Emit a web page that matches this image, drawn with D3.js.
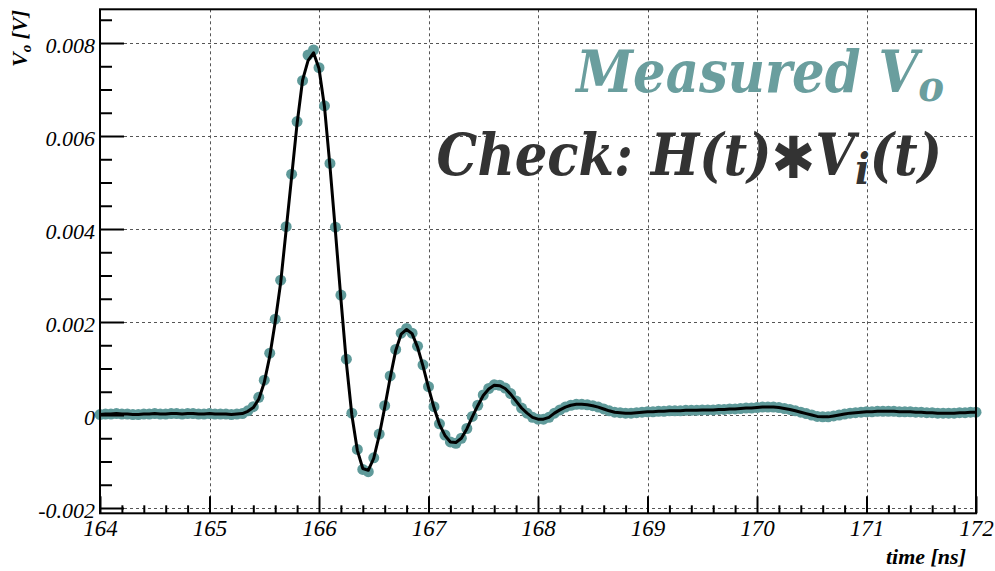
<!DOCTYPE html>
<html>
<head>
<meta charset="utf-8">
<script src="https://cdn.jsdelivr.net/npm/d3@7"></script>
<style>
  body { margin: 0; background: #fff; }
</style>
</head>
<body>
<svg id="chart"></svg>
<script>
// sample times [ns]
const times = [
  164.00, 164.05, 164.10, 164.15, 164.20, 164.25, 164.30, 164.35, 164.40, 164.45,
  164.50, 164.55, 164.60, 164.65, 164.70, 164.75, 164.80, 164.85, 164.90, 164.95,
  165.00, 165.05, 165.10, 165.15, 165.20, 165.25, 165.30, 165.35, 165.40, 165.45,
  165.50, 165.55, 165.60, 165.65, 165.70, 165.75, 165.80, 165.85, 165.90, 165.95,
  166.00, 166.05, 166.10, 166.15, 166.20, 166.25, 166.30, 166.35, 166.40, 166.45,
  166.50, 166.55, 166.60, 166.65, 166.70, 166.75, 166.80, 166.85, 166.90, 166.95,
  167.00, 167.05, 167.10, 167.15, 167.20, 167.25, 167.30, 167.35, 167.40, 167.45,
  167.50, 167.55, 167.60, 167.65, 167.70, 167.75, 167.80, 167.85, 167.90, 167.95,
  168.00, 168.05, 168.10, 168.15, 168.20, 168.25, 168.30, 168.35, 168.40, 168.45,
  168.50, 168.55, 168.60, 168.65, 168.70, 168.75, 168.80, 168.85, 168.90, 168.95,
  169.00, 169.05, 169.10, 169.15, 169.20, 169.25, 169.30, 169.35, 169.40, 169.45,
  169.50, 169.55, 169.60, 169.65, 169.70, 169.75, 169.80, 169.85, 169.90, 169.95,
  170.00, 170.05, 170.10, 170.15, 170.20, 170.25, 170.30, 170.35, 170.40, 170.45,
  170.50, 170.55, 170.60, 170.65, 170.70, 170.75, 170.80, 170.85, 170.90, 170.95,
  171.00, 171.05, 171.10, 171.15, 171.20, 171.25, 171.30, 171.35, 171.40, 171.45,
  171.50, 171.55, 171.60, 171.65, 171.70, 171.75, 171.80, 171.85, 171.90, 171.95,
  172.00
];

// measured Vo [V]
const measured = [
  0.00001, 0.00002, 0.00002, 0.00003, 0.00002, 0.00002, 0.00001, 0.00001, 0.00002, 0.00002,
  0.00003, 0.00002, 0.00002, 0.00003, 0.00003, 0.00002, 0.00003, 0.00003, 0.00002, 0.00002,
  0.00003, 0.00002, 0.00002, 0.00002, 0.00001, 0.00002, 0.00003, 0.00009, 0.00018, 0.00038,
  0.00075, 0.00133, 0.00206, 0.00290, 0.00405, 0.00518, 0.00631, 0.00719, 0.00774, 0.00785,
  0.00747, 0.00665, 0.00541, 0.00404, 0.00258, 0.00120, 0.00004, -0.00074, -0.00117, -0.00122,
  -0.00092, -0.00041, 0.00020, 0.00084, 0.00141, 0.00176, 0.00186, 0.00176, 0.00148, 0.00108,
  0.00061, 0.00018, -0.00019, -0.00043, -0.00058, -0.00061, -0.00050, -0.00029, -0.00003, 0.00021,
  0.00043, 0.00057, 0.00065, 0.00064, 0.00058, 0.00046, 0.00030, 0.00015, 0.00004, -0.00005,
  -0.00009, -0.00009, -0.00005, 0.00004, 0.00011, 0.00017, 0.00021, 0.00023, 0.00023, 0.00022,
  0.00020, 0.00017, 0.00013, 0.00009, 0.00006, 0.00005, 0.00004, 0.00004, 0.00005, 0.00006,
  0.00007, 0.00007, 0.00008, 0.00008, 0.00009, 0.00009, 0.00009, 0.00010, 0.00010, 0.00010,
  0.00011, 0.00011, 0.00011, 0.00012, 0.00012, 0.00013, 0.00013, 0.00014, 0.00015, 0.00015,
  0.00016, 0.00017, 0.00017, 0.00017, 0.00016, 0.00014, 0.00012, 0.00009, 0.00006, 0.00003,
  0.00000, -0.00003, -0.00004, -0.00004, -0.00002, 0.00000, 0.00002, 0.00004, 0.00005, 0.00006,
  0.00007, 0.00007, 0.00008, 0.00008, 0.00008, 0.00008, 0.00007, 0.00007, 0.00007, 0.00006,
  0.00006, 0.00005, 0.00005, 0.00004, 0.00004, 0.00004, 0.00004, 0.00005, 0.00005, 0.00006,
  0.00006
];

// H(t) * Vi(t) check [V]
const convolved = [
  0.00001, 0.00002, 0.00002, 0.00003, 0.00002, 0.00002, 0.00001, 0.00001, 0.00002, 0.00002,
  0.00003, 0.00002, 0.00002, 0.00003, 0.00003, 0.00002, 0.00003, 0.00003, 0.00002, 0.00002,
  0.00003, 0.00002, 0.00002, 0.00002, 0.00001, 0.00002, 0.00003, 0.00008, 0.00016, 0.00034,
  0.00070, 0.00126, 0.00200, 0.00285, 0.00398, 0.00512, 0.00627, 0.00720, 0.00762, 0.00779,
  0.00745, 0.00663, 0.00535, 0.00395, 0.00250, 0.00112, 0.00000, -0.00076, -0.00115, -0.00119,
  -0.00093, -0.00044, 0.00016, 0.00080, 0.00138, 0.00174, 0.00184, 0.00175, 0.00146, 0.00105,
  0.00059, 0.00016, -0.00020, -0.00044, -0.00058, -0.00059, -0.00050, -0.00030, -0.00004, 0.00020,
  0.00042, 0.00056, 0.00064, 0.00063, 0.00057, 0.00045, 0.00030, 0.00015, 0.00004, -0.00005,
  -0.00009, -0.00009, -0.00005, 0.00004, 0.00011, 0.00017, 0.00021, 0.00023, 0.00023, 0.00022,
  0.00020, 0.00017, 0.00013, 0.00009, 0.00006, 0.00005, 0.00004, 0.00004, 0.00005, 0.00006,
  0.00007, 0.00007, 0.00008, 0.00008, 0.00009, 0.00009, 0.00009, 0.00010, 0.00010, 0.00010,
  0.00011, 0.00011, 0.00011, 0.00012, 0.00012, 0.00013, 0.00013, 0.00014, 0.00015, 0.00015,
  0.00016, 0.00017, 0.00017, 0.00017, 0.00016, 0.00014, 0.00012, 0.00009, 0.00006, 0.00003,
  0.00000, -0.00003, -0.00004, -0.00004, -0.00002, 0.00000, 0.00002, 0.00004, 0.00005, 0.00006,
  0.00007, 0.00007, 0.00008, 0.00008, 0.00008, 0.00008, 0.00007, 0.00007, 0.00007, 0.00006,
  0.00006, 0.00005, 0.00005, 0.00004, 0.00004, 0.00004, 0.00004, 0.00005, 0.00005, 0.00006,
  0.00006
];

const xTicks = [164, 165, 166, 167, 168, 169, 170, 171, 172];
const xTickLabels = ['164', '165', '166', '167', '168', '169', '170', '171', '172'];
const yTicks = [-0.002, 0, 0.002, 0.004, 0.006, 0.008];
const yTickLabels = ['-0.002', '0', '0.002', '0.004', '0.006', '0.008'];

function drawChart() {
  const width = 995, height = 571;
  const left = 100, right = 976, top = 9.3, bottom = 513.3;
  const markerColor = '#5f9a9a';
  const serif = "'Liberation Serif', 'Times New Roman', serif";

  const svg = d3.select('#chart').attr('width', width).attr('height', height);
  svg.append('rect').attr('width', width).attr('height', height).attr('fill', '#fff');

  const x = d3.scaleLinear().domain([164, 172]).range([left, right]);
  const y = d3.scaleLinear().domain([-0.002114, 0.008725]).range([bottom, top]);

  // grid
  const grid = svg.append('g').attr('stroke', '#555').attr('stroke-width', 1).attr('stroke-dasharray', '3,3');
  grid.selectAll('line.gx')
    .data(xTicks.slice(1, -1))
    .enter()
    .append('line')
    .attr('x1', (d) => Math.round(x(d)) + 0.5)
    .attr('x2', (d) => Math.round(x(d)) + 0.5)
    .attr('y1', top)
    .attr('y2', bottom);
  grid.selectAll('line.gy')
    .data(yTicks)
    .enter()
    .append('line')
    .attr('y1', (d) => Math.round(y(d)) + 0.5)
    .attr('y2', (d) => Math.round(y(d)) + 0.5)
    .attr('x1', left)
    .attr('x2', right);

  // measured markers
  const pts = times.map((t, i) => ({ t: t, v: measured[i] }));
  svg.append('g')
    .selectAll('circle')
    .data(pts)
    .enter()
    .append('circle')
    .attr('cx', (d) => x(d.t))
    .attr('cy', (d) => y(d.v))
    .attr('r', 5.5)
    .attr('fill', markerColor);

  // convolution check line
  const line = d3.line()
    .x((d) => x(d.t))
    .y((d) => y(d.v));
  svg.append('path')
    .datum(times.map((t, i) => ({ t: t, v: convolved[i] })))
    .attr('d', line)
    .attr('fill', 'none')
    .attr('stroke', '#000')
    .attr('stroke-width', 3)
    .attr('stroke-linejoin', 'round');

  // axes
  const xMinor = d3.range(164, 172.001, 0.2).filter((v) => Math.abs(v - Math.round(v)) > 0.01);
  const yMinor = d3.range(-0.002, 0.00872, 0.0005).filter((v) => Math.abs(v / 0.002 - Math.round(v / 0.002)) > 0.01);

  const xAxis = svg.append('g').attr('transform', `translate(0,${bottom})`);
  xAxis.call(d3.axisBottom(x).tickValues(xTicks).tickSizeInner(-17).tickSizeOuter(0).tickPadding(6)
    .tickFormat((d, i) => xTickLabels[i]));
  xAxis.append('g').call(d3.axisBottom(x).tickValues(xMinor).tickSizeInner(-8).tickSizeOuter(0).tickFormat(''));

  const yAxis = svg.append('g').attr('transform', `translate(${left},0)`);
  yAxis.call(d3.axisLeft(y).tickValues(yTicks).tickSizeInner(-24).tickSizeOuter(0).tickPadding(5)
    .tickFormat((d, i) => yTickLabels[i]));
  yAxis.append('g').call(d3.axisLeft(y).tickValues(yMinor).tickSizeInner(-12).tickSizeOuter(0).tickFormat(''));

  svg.selectAll('.domain').remove();
  svg.selectAll('.tick line').attr('stroke', '#000').attr('stroke-width', 2);
  svg.selectAll('.tick text')
    .style('font-family', serif)
    .style('font-style', 'italic')
    .style('font-size', '23px')
    .attr('fill', '#000');
  yAxis.selectAll('.tick text').style('font-size', '22px').attr('dy', '0.42em');
  xAxis.selectAll('.tick text').attr('dy', '0.72em');

  // frame
  svg.append('rect')
    .attr('x', left)
    .attr('y', top)
    .attr('width', right - left)
    .attr('height', bottom - top)
    .attr('fill', 'none')
    .attr('stroke', '#000')
    .attr('stroke-width', 2);

  // axis titles
  svg.append('text')
    .attr('x', 966)
    .attr('y', 564)
    .attr('text-anchor', 'end')
    .style('font-family', serif)
    .style('font-weight', 'bold')
    .style('font-style', 'italic')
    .style('font-size', '22px')
    .text('time [ns]');

  const yTitle = svg.append('text')
    .attr('transform', 'translate(27,10) rotate(-90)')
    .attr('text-anchor', 'end')
    .style('font-family', serif)
    .style('font-weight', 'bold')
    .style('font-style', 'italic')
    .style('font-size', '22px');
  yTitle.append('tspan').text('V');
  yTitle.append('tspan').style('font-size', '15px').attr('dy', 4).text('o');
  yTitle.append('tspan').attr('dy', -4).text(' [V]');

  // legend texts
  const legendFont = "'DejaVu Serif Condensed', 'DejaVu Serif', serif";
  const t1 = svg.append('text')
    .attr('x', 944)
    .attr('y', 92)
    .attr('text-anchor', 'end')
    .style('font-family', legendFont)
    .style('font-stretch', 'condensed')
    .style('font-weight', 'bold')
    .style('font-style', 'italic')
    .style('font-size', '57px')
    .attr('fill', '#6a9e9e');
  t1.append('tspan').text('Measured V');
  t1.append('tspan').style('font-size', '43px').attr('dy', 9).text('o');

  const t2 = svg.append('text')
    .attr('x', 942)
    .attr('y', 175)
    .attr('text-anchor', 'end')
    .style('font-family', legendFont)
    .style('font-stretch', 'condensed')
    .style('font-weight', 'bold')
    .style('font-style', 'italic')
    .style('font-size', '57px')
    .attr('fill', '#333');
  t2.append('tspan').text('Check: H(t)');
  t2.append('tspan')
    .style('font-family', "'DejaVu Sans', sans-serif")
    .style('font-style', 'normal')
    .style('font-size', '58px')
    .attr('dy', 3)
    .text('\u2731');
  t2.append('tspan').attr('dy', -3).text('V');
  t2.append('tspan').style('font-size', '43px').attr('dy', 9).text('i');
  t2.append('tspan').attr('dy', -9).text('(t)');
}

drawChart();
</script>
</body>
</html>
